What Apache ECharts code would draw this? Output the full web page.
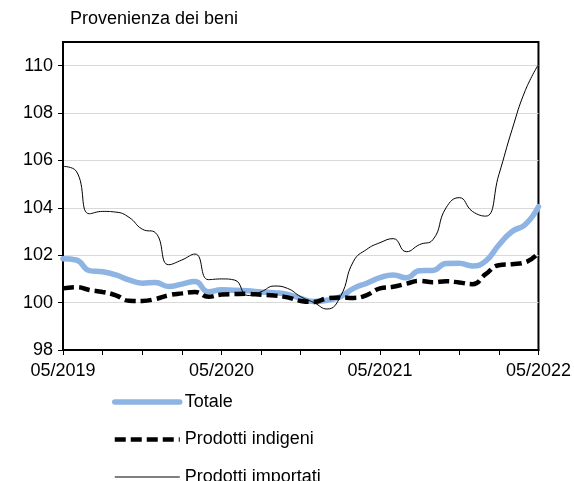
<!DOCTYPE html>
<html>
<head>
<meta charset="utf-8">
<script src="https://cdn.jsdelivr.net/npm/echarts@6/dist/echarts.min.js"></script>
<style>
  html, body { margin: 0; padding: 0; background: #fff; }
  #chart { width: 574px; height: 481px; }
</style>
</head>
<body>
<div id="chart"></div>
<script>
const months = [
  '05/2019', '06/2019', '07/2019', '08/2019', '09/2019', '10/2019', '11/2019', '12/2019',
  '01/2020', '02/2020', '03/2020', '04/2020', '05/2020', '06/2020', '07/2020', '08/2020',
  '09/2020', '10/2020', '11/2020', '12/2020', '01/2021', '02/2021', '03/2021', '04/2021',
  '05/2021', '06/2021', '07/2021', '08/2021', '09/2021', '10/2021', '11/2021', '12/2021',
  '01/2022', '02/2022', '03/2022', '04/2022', '05/2022'
]

const totale = [
  101.85, 101.8, 101.35, 101.3, 101.17, 100.96, 100.82, 100.85, 100.68, 100.78,
  100.89, 100.46, 100.54, 100.52, 100.5, 100.45, 100.42, 100.35, 100.18, 100.05,
  100.1, 100.25, 100.6, 100.82, 101.05, 101.17, 101.05, 101.35, 101.36, 101.65,
  101.66, 101.55, 101.75, 102.43, 103.0, 103.3, 104.05
]

const indigeni = [
  100.6, 100.65, 100.53, 100.45, 100.31, 100.08, 100.07, 100.15, 100.31, 100.39,
  100.45, 100.25, 100.34, 100.36, 100.37, 100.33, 100.3, 100.22, 100.07, 100.03,
  100.18, 100.22, 100.2, 100.32, 100.6, 100.67, 100.8, 100.92, 100.86, 100.9,
  100.85, 100.78, 101.2, 101.58, 101.62, 101.7, 102.1
]

const importati = [
  105.75, 105.55, 103.75, 103.85, 103.82, 103.6, 103.1, 102.95, 101.6, 101.8,
  102.05, 100.97, 101.0, 100.95, 100.3, 100.46, 100.7, 100.6, 100.25, 100.0,
  99.73, 100.25, 101.75, 102.25, 102.53, 102.7, 102.15, 102.45, 102.65, 104.0,
  104.43, 103.85, 103.65, 105.4, 107.3, 108.95, 110.05
]

const yTicks = [98, 100, 102, 104, 106, 108, 110]

const font = 'Liberation Sans, Arial, sans-serif'
const chart = echarts.init(document.getElementById('chart'))

const option = {
  animation: false,
  textStyle: { fontFamily: font },
  title: {
    text: 'Provenienza dei beni',
    left: 65,
    top: 5,
    textStyle: { fontFamily: font, fontSize: 18, fontWeight: 'normal', color: '#000' }
  },
  legend: {
    orient: 'vertical',
    left: 107,
    top: 388,
    height: 130,
    itemWidth: 65,
    itemHeight: 14,
    itemGap: 19.5,
    itemStyle: { opacity: 0 },
    lineStyle: { width: 'inherit' },
    textStyle: { fontFamily: font, fontSize: 18, color: '#000' },
    data: ['Totale', 'Prodotti indigeni', 'Prodotti importati']
  },
  grid: {
    left: 63,
    right: 34,
    top: 42,
    bottom: 131,
    show: true,
    borderColor: '#000',
    borderWidth: 2
  },
  xAxis: {
    type: 'category',
    data: months,
    boundaryGap: false,
    axisLine: { lineStyle: { color: '#000', width: 2 } },
    axisTick: { interval: 2, length: 5, lineStyle: { color: '#000', width: 1 } },
    axisLabel: { interval: 11, margin: 12, fontSize: 18, color: '#000', fontFamily: font },
    splitLine: { show: false }
  },
  yAxis: {
    type: 'value',
    min: 98,
    max: 111,
    interval: 2,
    axisLine: { show: true, lineStyle: { color: '#000', width: 2 } },
    axisTick: { show: true, length: 5, customValues: yTicks, lineStyle: { color: '#000', width: 1 } },
    axisLabel: {
      customValues: yTicks,
      margin: 10,
      fontSize: 18,
      color: '#000',
      fontFamily: font
    },
    splitLine: { lineStyle: { color: '#d9d9d9', width: 1 } }
  },
  series: [
    {
      name: 'Totale',
      type: 'line',
      data: totale,
      smooth: 0.5,
      symbol: 'none',
      lineStyle: { color: '#8db4e2', width: 5.5, cap: 'round' },
      itemStyle: { color: '#8db4e2' }
    },
    {
      name: 'Prodotti indigeni',
      type: 'line',
      data: indigeni,
      smooth: 0.5,
      symbol: 'none',
      lineStyle: { color: '#000', width: 4.5, type: [11, 5] },
      itemStyle: { color: '#000' }
    },
    {
      name: 'Prodotti importati',
      type: 'line',
      data: importati,
      smooth: 0.5,
      symbol: 'none',
      lineStyle: { color: '#000', width: 1 },
      itemStyle: { color: '#000' }
    }
  ]
}

chart.setOption(option)
</script>
</body>
</html>
